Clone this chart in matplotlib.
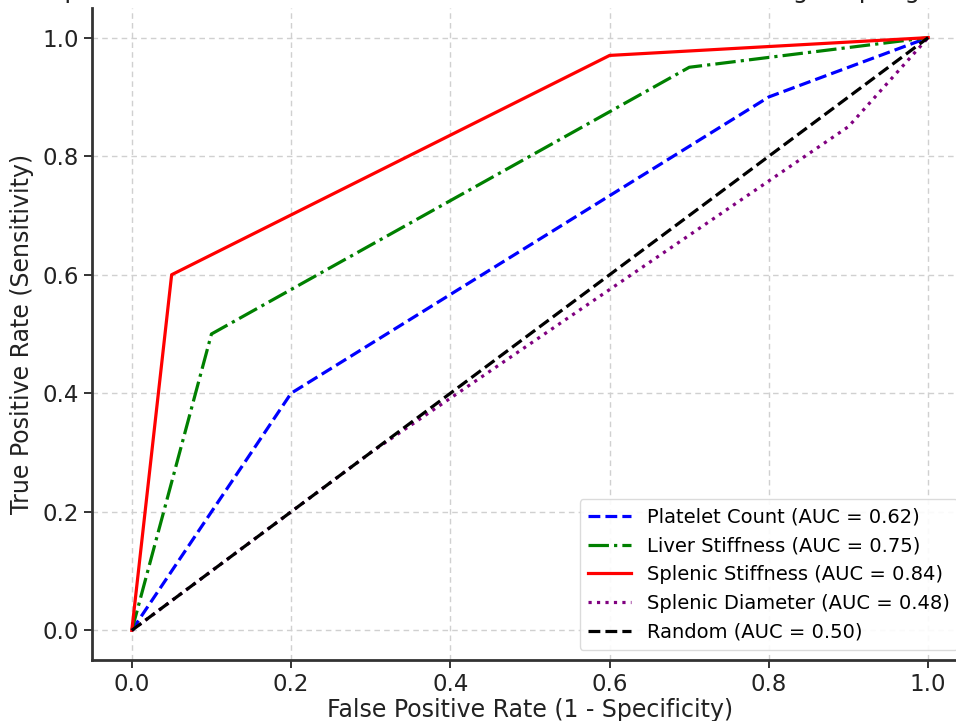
import numpy as np
import matplotlib
matplotlib.use("Agg")
from matplotlib import pyplot as plt

# ROC points
fpr_platelet = [0.0, 0.2, 0.8, 1.0]
tpr_platelet = [0.0, 0.4, 0.9, 1.0]
fpr_liver = [0.0, 0.1, 0.7, 1.0]
tpr_liver = [0.0, 0.5, 0.95, 1.0]
fpr_splenic_stiff = [0.0, 0.05, 0.6, 1.0]
tpr_splenic_stiff = [0.0, 0.6, 0.97, 1.0]
fpr_splenic_diam = [0.0, 0.3, 0.9, 1.0]
tpr_splenic_diam = [0.0, 0.3, 0.85, 1.0]
fpr_random = [0.0, 1.0]
tpr_random = [0.0, 1.0]

labels = [
    "Platelet Count (AUC = 0.62)",
    "Liver Stiffness (AUC = 0.75)",
    "Splenic Stiffness (AUC = 0.84)",
    "Splenic Diameter (AUC = 0.48)",
    "Random (AUC = 0.50)",
]
ticks = [0.0, 0.2, 0.4, 0.6, 0.8, 1.0]

fig = plt.figure(figsize=(9.56, 7.21), dpi=100)
# the reference is a crop: axes run past the right and top edges
ax = fig.add_axes([92 / 956, 61 / 721, 876 / 956, 652 / 721])

lw = 2.3
ax.plot(fpr_platelet, tpr_platelet, color="blue", linestyle="--", lw=lw, label=labels[0])
ax.plot(fpr_liver, tpr_liver, color="green", linestyle="-.", lw=lw, label=labels[1])
ax.plot(fpr_splenic_stiff, tpr_splenic_stiff, color="red", linestyle="-", lw=lw, label=labels[2])
ax.plot(fpr_splenic_diam, tpr_splenic_diam, color="purple", linestyle=":", lw=lw, label=labels[3])
ax.plot(fpr_random, tpr_random, color="black", linestyle="--", lw=lw, label=labels[4])

ax.set_xlim(-0.05, 1.05)
ax.set_ylim(-0.05, 1.05)
ax.set_xticks(ticks)
ax.set_yticks(ticks)
ax.tick_params(labelsize=16.5, labelcolor="#222222", length=6, width=1.4, color="#333333")
for s in ax.spines.values():
    s.set_linewidth(2)
    s.set_color("#333333")
ax.spines["top"].set_visible(False)
ax.spines["right"].set_visible(False)

ax.set_xlabel("False Positive Rate (1 - Specificity)", fontsize=17, color="#222222", labelpad=1)
ax.set_ylabel("True Positive Rate (Sensitivity)", fontsize=17, color="#222222", labelpad=6)
# only the descenders of the title show at the top edge of the reference
ax.set_title("Comparison of ROC Curves for Non-Invasive Markers in Predicting Esophageal Varices",
             fontsize=17.5, pad=7.5, color="#222222")
ax.grid(True, linestyle=(0, (4, 3)), color="#d0d0d0", linewidth=1)

ax.legend(loc="lower right", fontsize=14, framealpha=0.9, edgecolor="#d8d8d8",
          handlelength=2.2, borderpad=0.45, labelspacing=0.5)

fig.savefig("out.png", dpi=100)
